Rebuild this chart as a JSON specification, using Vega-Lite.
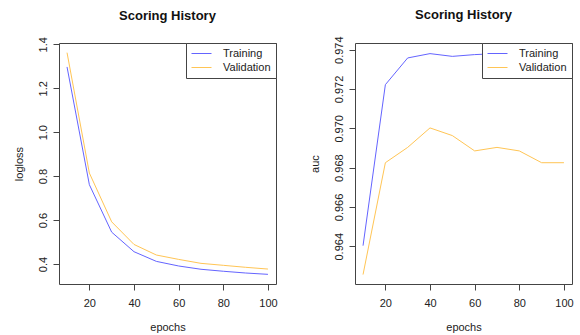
{
  "$schema": "https://vega.github.io/schema/vega-lite/v6.json",
  "padding": {"left": 12, "top": 8, "right": 4, "bottom": 0},
  "background": "white",
  "bounds": "flush",
  "spacing": 79,
  "config": {
    "font": "Liberation Sans",
    "view": {"stroke": "#444", "strokeWidth": 1},
    "axis": {"grid": false, "domain": false, "tickColor": "#444", "tickSize": 6, "labelFontSize": 11, "labelColor": "#222", "titleFontSize": 11, "titleFontWeight": "normal", "titleColor": "#222", "labelPadding": 7},
    "axisX": {"titlePadding": 13},
    "axisY": {"labelAngle": -90, "labelPadding": 5, "titlePadding": 13},
    "title": {"fontSize": 13, "fontWeight": "bold", "anchor": "middle", "offset": 14, "color": "#111"},
    "legend": {"orient": "top-right", "offset": 0, "fillColor": "white", "strokeColor": "#444", "padding": 5, "columnPadding": 0, "symbolType": "M-1,0H3", "symbolSize": 100, "symbolStrokeWidth": 1, "labelFontSize": 11, "labelColor": "#222", "labelOffset": 21, "rowPadding": 2, "title": null}
  },
  "resolve": {"scale": {"color": "independent"}, "legend": {"color": "independent"}},
  "datasets": {
    "hist": [
      {"epochs": 10, "series": "Training", "logloss": 1.297, "auc": 0.96403},
      {"epochs": 20, "series": "Training", "logloss": 0.761, "auc": 0.97222},
      {"epochs": 30, "series": "Training", "logloss": 0.545, "auc": 0.97358},
      {"epochs": 40, "series": "Training", "logloss": 0.456, "auc": 0.9738},
      {"epochs": 50, "series": "Training", "logloss": 0.412, "auc": 0.97366},
      {"epochs": 60, "series": "Training", "logloss": 0.391, "auc": 0.97375},
      {"epochs": 70, "series": "Training", "logloss": 0.376, "auc": 0.9738},
      {"epochs": 80, "series": "Training", "logloss": 0.367, "auc": 0.97385},
      {"epochs": 90, "series": "Training", "logloss": 0.359, "auc": 0.9739},
      {"epochs": 100, "series": "Training", "logloss": 0.353, "auc": 0.97386},
      {"epochs": 10, "series": "Validation", "logloss": 1.362, "auc": 0.96256},
      {"epochs": 20, "series": "Validation", "logloss": 0.814, "auc": 0.96825},
      {"epochs": 30, "series": "Validation", "logloss": 0.592, "auc": 0.96903},
      {"epochs": 40, "series": "Validation", "logloss": 0.489, "auc": 0.97002},
      {"epochs": 50, "series": "Validation", "logloss": 0.441, "auc": 0.96963},
      {"epochs": 60, "series": "Validation", "logloss": 0.421, "auc": 0.96885},
      {"epochs": 70, "series": "Validation", "logloss": 0.403, "auc": 0.96903},
      {"epochs": 80, "series": "Validation", "logloss": 0.394, "auc": 0.96885},
      {"epochs": 90, "series": "Validation", "logloss": 0.385, "auc": 0.96825},
      {"epochs": 100, "series": "Validation", "logloss": 0.377, "auc": 0.96825}
    ]
  },
  "hconcat": [
    {
      "width": 217,
      "height": 241,
      "title": "Scoring History",
      "data": {"name": "hist"},
      "mark": {"type": "line", "strokeWidth": 1},
      "encoding": {
        "x": {"field": "epochs", "type": "quantitative", "title": "epochs", "scale": {"domain": [6.4, 103.6], "nice": false, "zero": false}, "axis": {"values": [20, 40, 60, 80, 100]}},
        "y": {"field": "logloss", "type": "quantitative", "title": "logloss", "scale": {"domain": [0.309, 1.406], "nice": false, "zero": false}, "axis": {"values": [0.4, 0.6, 0.8, 1.0, 1.2, 1.4], "format": ".1f"}},
        "color": {"field": "series", "type": "nominal", "scale": {"domain": ["Training", "Validation"], "range": ["#6464ff", "#ffc555"]}}
      }
    },
    {
      "width": 217,
      "height": 241,
      "title": "Scoring History",
      "data": {"name": "hist"},
      "mark": {"type": "line", "strokeWidth": 1},
      "encoding": {
        "x": {"field": "epochs", "type": "quantitative", "title": "epochs", "scale": {"domain": [6.4, 103.6], "nice": false, "zero": false}, "axis": {"values": [20, 40, 60, 80, 100]}},
        "y": {"field": "auc", "type": "quantitative", "title": "auc", "scale": {"domain": [0.96208, 0.97434], "nice": false, "zero": false}, "axis": {"values": [0.964, 0.966, 0.968, 0.97, 0.972, 0.974], "format": ".3f"}},
        "color": {"field": "series", "type": "nominal", "scale": {"domain": ["Training", "Validation"], "range": ["#6464ff", "#ffc555"]}}
      }
    }
  ]
}
